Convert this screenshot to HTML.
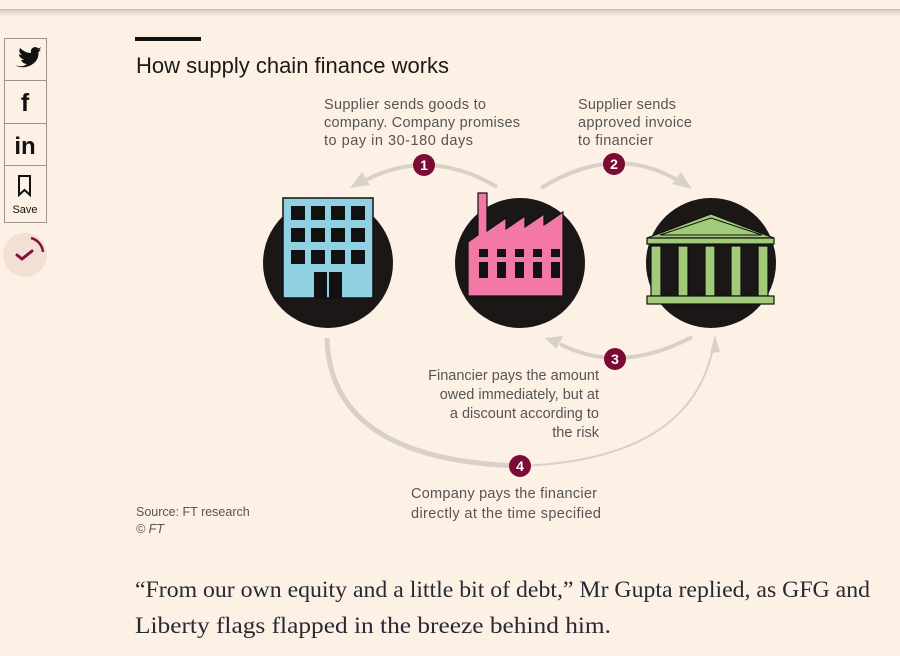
<!DOCTYPE html>
<html><head><meta charset="utf-8"><style>
html,body{margin:0;padding:0;background:#fdf1e6;width:900px;height:656px;overflow:hidden}
svg{display:block}
</style></head><body>
<svg width="900" height="656" viewBox="0 0 900 656" xmlns="http://www.w3.org/2000/svg" font-family="Liberation Sans, sans-serif">
<defs>
<linearGradient id="sh" x1="0" y1="0" x2="0" y2="1"><stop offset="0" stop-color="#c9bcb2"/><stop offset="1" stop-color="#fdf1e6" stop-opacity="0"/></linearGradient>
</defs>
<rect width="900" height="656" fill="#fdf1e6"/>
<rect x="0" y="0" width="900" height="9" fill="#fdf0e6"/>
<rect x="0" y="9" width="900" height="10" fill="url(#sh)"/>

<!-- sidebar -->
<rect x="4.5" y="38.5" width="42" height="184" fill="none" stroke="#9e948c"/>
<line x1="4" y1="80.5" x2="47" y2="80.5" stroke="#9e948c"/>
<line x1="4" y1="123.5" x2="47" y2="123.5" stroke="#9e948c"/>
<line x1="4" y1="165.5" x2="47" y2="165.5" stroke="#9e948c"/>
<path d="M15 65 Q22 68 27 64 Q23 64 21 60 Q23 60 24 59.5 Q19 58 19 54 Q21 55 22 55 Q18 52 20 48 Q25 53 31 53 Q30 48 35 47 Q37 47 38 48.5 Q40 48 41 47 Q40 49 39 50 Q40 50 41 49.5 Q40 51 38.5 52 Q39 62 29 66 Q21 69 15 65Z" fill="#111"/>
<text x="25" y="111" font-size="25" font-weight="bold" text-anchor="middle" fill="#111">f</text>
<text x="25" y="154" font-size="24" font-weight="bold" text-anchor="middle" fill="#111">in</text>
<path d="M19 176 h11 v19 l-5.5 -5 l-5.5 5z" fill="none" stroke="#111" stroke-width="2"/>
<text x="25" y="213" font-size="11" text-anchor="middle" fill="#111">Save</text>
<circle cx="25" cy="255" r="22" fill="#f1e0d3"/>
<path d="M31 238 a16 16 0 0 1 12 14" fill="none" stroke="#8a0f3c" stroke-width="2.5"/>
<path d="M17 255 l5 4 l10 -8" fill="none" stroke="#8a0f3c" stroke-width="3" stroke-linecap="round"/>

<!-- title -->
<rect x="135" y="37" width="66" height="4" fill="#111"/>
<text x="136" y="73" font-size="22" fill="#1a1a1a">How supply chain finance works</text>

<!-- arrows -->
<g fill="none" stroke="#d8d1ca" stroke-width="4">
<path d="M497 187 Q430 147 366 180"/>
<path d="M541 188 Q614 143 677 180"/>
<path d="M692 337 Q620 375 560 344"/>
<path d="M327 338 Q330 460 520 466" stroke-width="5"/>
<path d="M520 466 Q690 460 713 348" stroke-width="2"/>
</g>
<g fill="#d8d1ca">
<polygon points="350,188 362,172 370,185"/>
<polygon points="692,189 672,184 681,172"/>
<polygon points="545,338 563,336 556,349"/>
<polygon points="715,335 710,353 720,352"/>
</g>

<!-- circles -->
<circle cx="328" cy="263" r="65" fill="#1a1716"/>
<circle cx="520" cy="263" r="65" fill="#1a1716"/>
<circle cx="711" cy="263" r="65" fill="#1a1716"/>

<!-- building -->
<rect x="283" y="198" width="90" height="100" fill="#8fd0e2" stroke="#111" stroke-width="1.5"/>
<g fill="#111">
<rect x="291" y="206" width="14" height="14"/><rect x="311" y="206" width="14" height="14"/><rect x="331" y="206" width="14" height="14"/><rect x="351" y="206" width="14" height="14"/>
<rect x="291" y="228" width="14" height="14"/><rect x="311" y="228" width="14" height="14"/><rect x="331" y="228" width="14" height="14"/><rect x="351" y="228" width="14" height="14"/>
<rect x="291" y="250" width="14" height="14"/><rect x="311" y="250" width="14" height="14"/><rect x="331" y="250" width="14" height="14"/><rect x="351" y="250" width="14" height="14"/>
<rect x="314" y="272" width="13" height="26"/><rect x="329" y="272" width="13" height="26"/>
</g>

<!-- factory -->
<path d="M478 193 h9 v38 l19 -13 v11 l19 -13 v11 l19 -13 v11 l19 -13 v84 h-95 v-54 l10 -7z" fill="#f279a6" stroke="#111" stroke-width="1.2"/>
<g fill="#111">
<rect x="479" y="249" width="9" height="8"/><rect x="497" y="249" width="9" height="8"/><rect x="515" y="249" width="9" height="8"/><rect x="533" y="249" width="9" height="8"/><rect x="551" y="249" width="9" height="8"/>
<rect x="479" y="262" width="9" height="16"/><rect x="497" y="262" width="9" height="16"/><rect x="515" y="262" width="9" height="16"/><rect x="533" y="262" width="9" height="16"/><rect x="551" y="262" width="9" height="16"/>
</g>

<!-- bank -->
<g fill="#a3c97a" stroke="#111" stroke-width="1.2">
<polygon points="647,238 711,214 774,238"/>
<rect x="647" y="238" width="127" height="6"/>
<rect x="651" y="246" width="10" height="50"/><rect x="678" y="246" width="10" height="50"/><rect x="705" y="246" width="10" height="50"/><rect x="731" y="246" width="10" height="50"/><rect x="758" y="246" width="10" height="50"/>
<rect x="647" y="296" width="127" height="8"/>
</g>
<polygon points="660,235 711,218 762,235" fill="#a3c97a" stroke="#111" stroke-width="1"/>

<!-- badges -->
<g fill="#7b0b35">
<circle cx="424" cy="165" r="11"/><circle cx="614" cy="164" r="11"/><circle cx="615" cy="359" r="11"/><circle cx="520" cy="466" r="11"/>
</g>
<g fill="#fff" font-size="14" font-weight="bold" text-anchor="middle">
<text x="424" y="170">1</text><text x="614" y="169">2</text><text x="615" y="364">3</text><text x="520" y="471">4</text>
</g>

<!-- labels -->
<g fill="#555" font-size="14.5">
<text x="324" y="109" textLength="162">Supplier sends goods to</text>
<text x="324" y="127" textLength="196">company. Company promises</text>
<text x="324" y="145" textLength="149">to pay in 30-180 days</text>
<text x="578" y="109" textLength="98">Supplier sends</text>
<text x="578" y="127" textLength="114">approved invoice</text>
<text x="578" y="145" textLength="75">to financier</text>
<g text-anchor="end">
<text x="599" y="380">Financier pays the amount</text>
<text x="599" y="399">owed immediately, but at</text>
<text x="599" y="418">a discount according to</text>
<text x="599" y="437">the risk</text>
</g>
<text x="411" y="498" textLength="186">Company pays the financier</text>
<text x="411" y="518" textLength="190">directly at the time specified</text>
</g>
<text x="136" y="516" font-size="12.5" fill="#555">Source: FT research</text>
<text x="136" y="533" font-size="12.5" fill="#555" font-style="italic">© FT</text>

<!-- body -->
<g font-family="Liberation Serif, serif" font-size="23" fill="#262a33">
<text x="135" y="597" textLength="735" lengthAdjust="spacingAndGlyphs">“From our own equity and a little bit of debt,” Mr Gupta replied, as GFG and</text>
<text x="135" y="633" textLength="476" lengthAdjust="spacingAndGlyphs">Liberty flags flapped in the breeze behind him.</text>
</g>
</svg>
</body></html>
